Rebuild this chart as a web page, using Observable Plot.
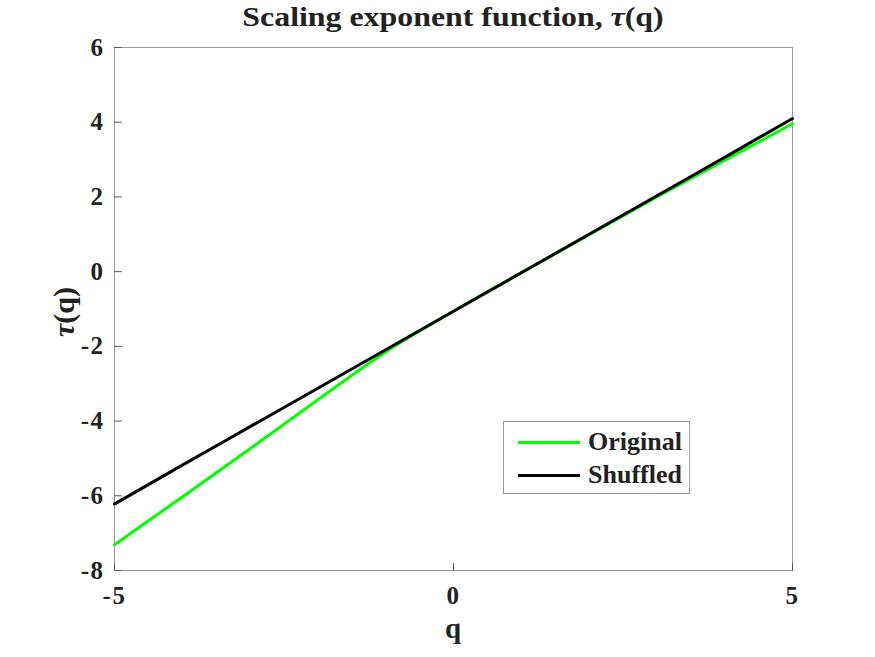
<!DOCTYPE html>
<html>
<head>
<meta charset="utf-8">
<script src="https://cdn.jsdelivr.net/npm/d3@7"></script>
<script src="https://cdn.jsdelivr.net/npm/@observablehq/plot@0.6"></script>
<style>
  html, body { margin: 0; padding: 0; background: #fff; }
  #wrap { position: relative; width: 875px; height: 657px; font-family: "Liberation Serif", "Times New Roman", serif; font-weight: bold; color: #222; }
  #title { position: absolute; top: 2px; left: 0; width: 906px; text-align: center; font-size: 27px; transform: scaleX(1.18); transform-origin: 453px 0; }
  #xlabel { position: absolute; top: 612px; left: 0; width: 906px; text-align: center; font-size: 29px; }
  #ylabel { position: absolute; left: 64px; top: 312px; transform: translate(-50%, -50%) rotate(-90deg); font-size: 30px; white-space: nowrap; }
  #legend { position: absolute; left: 503px; top: 421px; width: 185px; height: 71px; border: 1px solid #999; background: #fff; font-size: 26px; }
  .row { position: absolute; left: 14px; display: flex; align-items: center; }
  .sw { width: 62px; height: 0; border-top: 3px solid; margin-right: 8px; }
  svg text { font-family: "Liberation Serif", serif; font-weight: bold; letter-spacing: 1.5px; }
</style>
</head>
<body>
<div id="wrap">
  <div id="chart"></div>
  <div id="title">Scaling exponent function, <i>τ</i>(q)</div>
  <div id="xlabel">q</div>
  <div id="ylabel"><i>τ</i>(q)</div>
  <div id="legend"></div>
</div>
<script>
const qValues = [-5, -4, -3, -2, -1, 0, 1, 2, 3, 4, 5];
const originalTau = [-7.31, -6.03, -4.74, -3.43, -2.15, -1.06, -0.03, 0.99, 2.0, 2.98, 3.96];
const shuffledTau = [-6.22, -5.18, -4.15, -3.12, -2.09, -1.06, -0.03, 1.0, 2.03, 3.06, 4.1];
const seriesNames = ["Original", "Shuffled"];
const seriesColors = ["#00ff00", "#000000"];
const xTicks = [-5, 0, 5];
const yTicks = [-8, -6, -4, -2, 0, 2, 4, 6];

const rows = [];
qValues.forEach((q, i) => {
  rows.push({q, tau: originalTau[i], series: seriesNames[0]});
  rows.push({q, tau: shuffledTau[i], series: seriesNames[1]});
});

const tickRight = { draw(context, l) { context.moveTo(0, 0); context.lineTo(l, 0); } };
const tickUp = { draw(context, l) { context.moveTo(0, 0); context.lineTo(0, -l); } };

const plot = Plot.plot({
  width: 875,
  height: 657,
  marginTop: 47,
  marginLeft: 114,
  marginRight: 83,
  marginBottom: 87,
  style: { fontFamily: "Liberation Serif, serif", fontWeight: "bold", fontSize: "25px", color: "#222", background: "#fff" },
  x: { domain: [-5, 5] },
  y: { domain: [-8, 6] },
  color: { domain: seriesNames, range: seriesColors },
  marks: [
    Plot.frame({ stroke: "#999", strokeWidth: 1 }),
    Plot.axisX({ ticks: xTicks, tickSize: 0, tickPadding: 16, label: null, fontSize: 25, fontWeight: "bold", fill: "#222", tickFormat: d => String(d) }),
    Plot.axisY({ ticks: yTicks, tickSize: 0, tickPadding: 10, label: null, fontSize: 25, fontWeight: "bold", fill: "#222", tickFormat: d => String(d) }),
    Plot.vector(yTicks, { y: d => d, frameAnchor: "left", length: 7, anchor: "start", shape: tickRight, stroke: "#555", strokeWidth: 1 }),
    Plot.vector(xTicks, { x: d => d, frameAnchor: "bottom", length: 7, anchor: "start", shape: tickUp, stroke: "#555", strokeWidth: 1 }),
    Plot.line(rows, { x: "q", y: "tau", z: "series", stroke: "series", strokeWidth: 3, curve: "monotone-x" })
  ]
});
document.getElementById("chart").appendChild(plot);

const legend = document.getElementById("legend");
seriesNames.forEach((name, i) => {
  const r = document.createElement("div");
  r.className = "row";
  r.style.top = (i === 0 ? 5 : 38) + "px";
  r.innerHTML = `<span class="sw" style="border-color:${seriesColors[i]}"></span><span>${name}</span>`;
  legend.appendChild(r);
});
</script>
</body>
</html>
